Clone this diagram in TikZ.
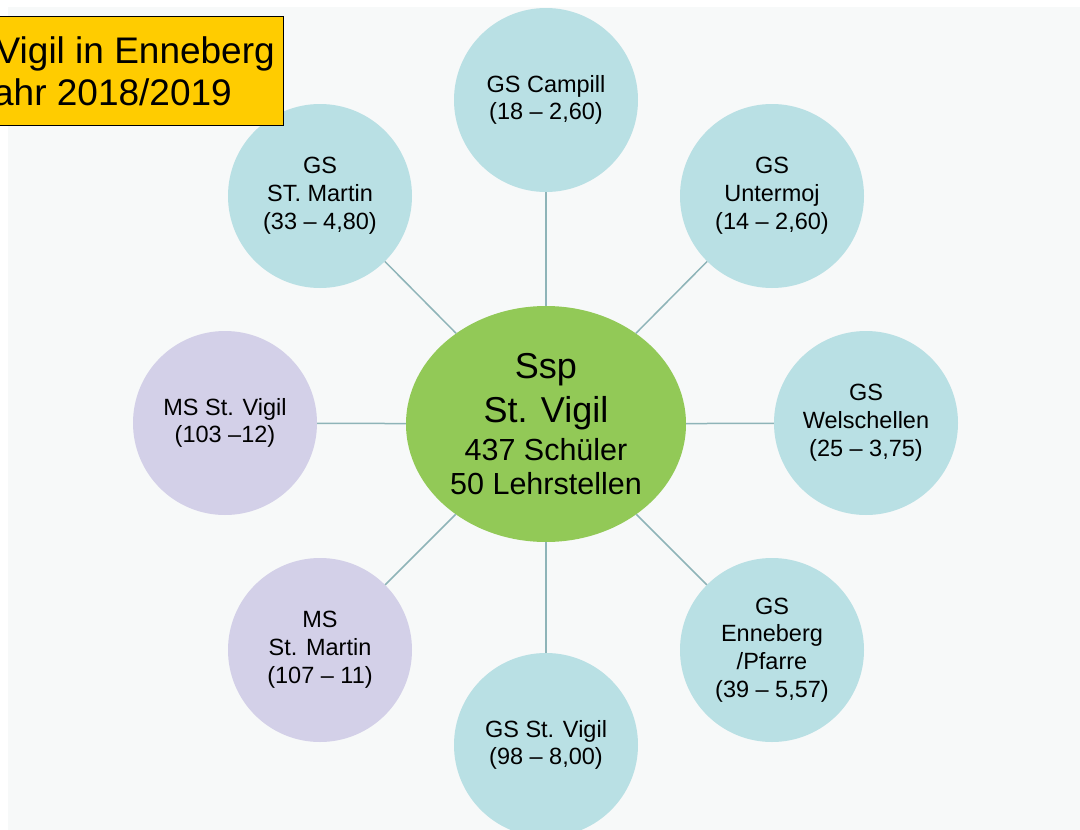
\documentclass[tikz,border=0pt]{standalone}
\usepackage{fontspec}
\setmainfont{Liberation Sans}
\usetikzlibrary{shapes.geometric}
\definecolor{bgray}{HTML}{F7F9F9}
\definecolor{cblue}{HTML}{B9E0E4}
\definecolor{clav}{HTML}{D3D0E8}
\definecolor{cgreen}{HTML}{92C957}
\definecolor{cyel}{HTML}{FFCC00}
\definecolor{cline}{HTML}{8EB4B8}
\newcommand\tightls{\lineskiplimit=-100pt\relax}
\newcommand\satfont{\fontsize{23.5}{27.8}\selectfont\tightls}
\newcommand\hubfont{\fontsize{30.5}{34}\selectfont\tightls}
\newcommand\bigfont{\fontsize{36}{44}\selectfont}
\tikzset{
  sat/.style={circle, fill=cblue, minimum size=184pt, inner sep=0pt, align=center, font=\satfont},
  satl/.style={sat, fill=clav},
  hub/.style={ellipse, fill=cgreen, minimum width=280pt, minimum height=236pt, inner sep=0pt, align=center, font=\hubfont},
  conn/.style={draw=cline, line width=1.5pt},
  titlebox/.style={draw=black, line width=1.2pt, fill=cyel},
  titletext/.style={font=\fontsize{37}{42}\selectfont, inner sep=0pt, anchor=base east}
}
\begin{document}
\begin{tikzpicture}[x=1pt,y=-1pt]
\useasboundingbox (0,0) rectangle (1080,830);
\begin{scope}
\clip (0,0) rectangle (1080,830);
\fill[white] (0,0) rectangle (1080,830);
\fill[bgray] (8,7) rectangle (1080,830);

\node[hub] (c) at (546,424) {{\bigfont Ssp}\\[10pt]{\bigfont St. Vigil}\\[4pt]437 Schüler\\50 Lehrstellen};

\node[sat] (n) at (546,100) {GS Campill\\(18 – 2,60)};
\node[sat] (ne) at (772,196) {GS\\Untermoj\\(14 – 2,60)};
\node[sat] (e) at (866,423) {GS\\Welschellen\\(25 – 3,75)};
\node[sat] (se) at (772,650) {GS\\Enneberg\\/Pfarre\\(39 – 5,57)};
\node[sat] (s) at (546,745) {GS St. Vigil\\(98 – 8,00)};
\node[satl] (sw) at (320,650) {MS\\St. Martin\\(107 – 11)};
\node[satl] (w) at (225,423) {MS St. Vigil\\(103 –12)};
\node[sat] (nw) at (320,196) {GS\\ST. Martin\\(33 – 4,80)};

\foreach \t in {n,ne,e,se,s,sw,w,nw} \draw[conn] (c) -- (\t);

\node[titlebox, minimum width=288pt, minimum height=109pt, anchor=north west, inner sep=0pt] (tb) at (-5,16) {};
\node[titletext] (t1) at (275,63) {Vigil in Enneberg};
\node[titletext] (t2) at (232,105) {ahr 2018/2019};
\end{scope}
\end{tikzpicture}
\end{document}
